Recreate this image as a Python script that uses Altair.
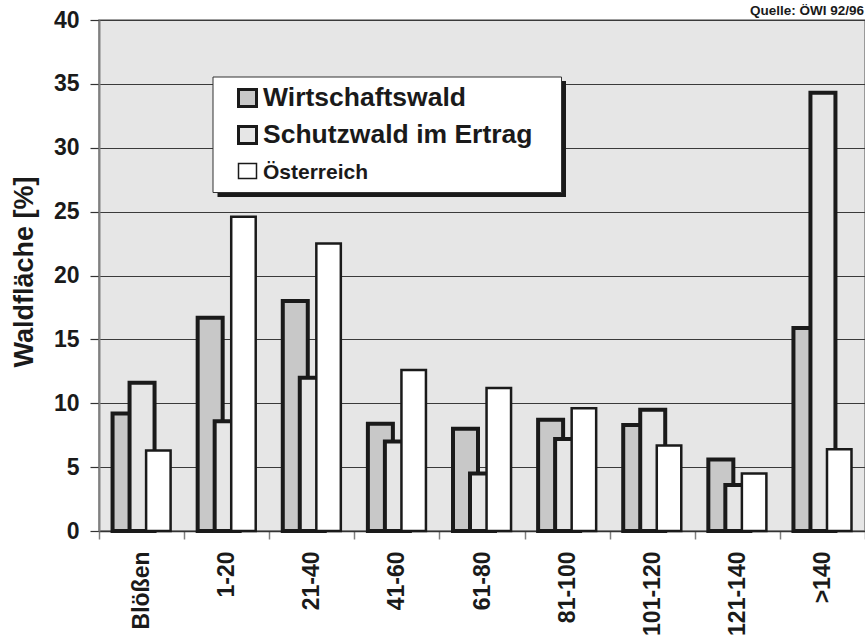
import altair as alt
import pandas as pd

# Waldfläche nach Höhenklassen, Anteile in Prozent
categories = ["Blößen", "1-20", "21-40", "41-60", "61-80", "81-100", "101-120", "121-140", ">140"]
series = ["Wirtschaftswald", "Schutzwald im Ertrag", "Österreich"]
wirtschaftswald = [9.2, 16.7, 18.0, 8.4, 8.0, 8.7, 8.3, 5.6, 15.9]
schutzwald = [11.6, 8.6, 12.0, 7.0, 4.5, 7.2, 9.5, 3.6, 34.3]
oesterreich = [6.3, 24.6, 22.5, 12.6, 11.2, 9.6, 6.7, 4.5, 6.4]
y_ticks = [0, 5, 10, 15, 20, 25, 30, 35, 40]
source_note = "Quelle: ÖWI 92/96"

FONT = "Liberation Sans"
INK = "#1a1a1a"

W, H = 766, 511

x_enc = alt.X(
    "kat:N",
    sort=categories,
    scale=alt.Scale(domain=categories, paddingInner=0, paddingOuter=0),
    axis=alt.Axis(
        title=None,
        tickBand="extent",
        labelAngle=270,
        labelAlign="right",
        labelBaseline="middle",
        labelPadding=12,
        labelFontSize=23,
        labelFontWeight="bold",
        labelFont=FONT,
        labelColor=INK,
        tickSize=8,
        tickColor="#808080",
        tickWidth=1.5,
        domainColor="#333333",
        domainWidth=1.5,
        grid=False,
    ),
)

y_enc = alt.Y(
    "wert:Q",
    scale=alt.Scale(domain=[0, 40], nice=False, zero=True),
    axis=alt.Axis(
        values=y_ticks,
        title="Waldfläche [%]",
        titleFont=FONT,
        titleFontSize=27,
        titleFontWeight="bold",
        titleColor=INK,
        titleAngle=270,
        titleX=-67,
        titleY=H / 2 - 4,
        titleAlign="center",
        titleBaseline="alphabetic",
        labelFont=FONT,
        labelFontSize=23,
        labelFontWeight="bold",
        labelColor=INK,
        labelPadding=11,
        tickSize=9,
        tickColor="#333333",
        tickWidth=1.2,
        domainColor="#808080",
        domainWidth=2,
        grid=True,
        gridColor="#3a3a3a",
        gridWidth=1.1,
    ),
)


def frame(values):
    return pd.DataFrame({"kat": categories, "wert": values})


bars_w = alt.Chart(frame(wirtschaftswald)).mark_bar(
    width=25, xOffset=-16.5, fill="#c8c8c8", stroke=INK, strokeWidth=4
).encode(x=x_enc, y=y_enc)

bars_s = alt.Chart(frame(schutzwald)).mark_bar(
    width=25, xOffset=0.5, fill="#e6e6e6", stroke=INK, strokeWidth=4
).encode(x=x_enc, y=y_enc)

bars_o = alt.Chart(frame(oesterreich)).mark_bar(
    width=24.5, xOffset=16.8, fill="#ffffff", stroke=INK, strokeWidth=2.5
).encode(x=x_enc, y=y_enc)

one = alt.Data(values=[{"k": 1}])

# Legend box with drop shadow
legend_shadow = alt.Chart(one).mark_rect(fill=INK).encode(
    x=alt.value(118.5), x2=alt.value(467), y=alt.value(61), y2=alt.value(177)
)
legend_box = alt.Chart(one).mark_rect(fill="#ffffff", stroke="#333333", strokeWidth=1).encode(
    x=alt.value(114), x2=alt.value(462.5), y=alt.value(57), y2=alt.value(172.5)
)

swatch_specs = [
    (series[0], "#c8c8c8", 3, 69.5, 86.5, 26.5, 85.5),
    (series[1], "#e6e6e6", 3, 106.5, 123.5, 26.5, 122.5),
    (series[2], "#ffffff", 1.5, 143.5, 158.5, 21, 159),
]

legend_layers = []
for name, fill, sw, y0, y1, fs, base in swatch_specs:
    legend_layers.append(
        alt.Chart(one).mark_rect(fill=fill, stroke=INK, strokeWidth=sw).encode(
            x=alt.value(139.5), x2=alt.value(157.5), y=alt.value(y0), y2=alt.value(y1)
        )
    )
    legend_layers.append(
        alt.Chart(one).mark_text(
            text=name, align="left", baseline="alphabetic",
            font=FONT, fontSize=fs, fontWeight="bold", color=INK,
        ).encode(x=alt.value(164), y=alt.value(base))
    )

note = alt.Chart(one).mark_text(
    text=source_note, align="right", baseline="alphabetic",
    font=FONT, fontSize=13.5, fontWeight="bold", color=INK,
).encode(x=alt.value(765), y=alt.value(-5))

chart = alt.layer(
    bars_w, bars_s, bars_o, legend_shadow, legend_box, *legend_layers, note
).properties(
    width=W,
    height=H,
    autosize=alt.AutoSizeParams(type="none"),
    padding={"left": 99, "top": 20, "right": 0, "bottom": 107},
    background="#ffffff",
).configure_view(
    fill="#e6e6e6", stroke="#808080", strokeWidth=1.5
)

chart.save("out.html", embed_options={"renderer": "svg", "actions": False})
